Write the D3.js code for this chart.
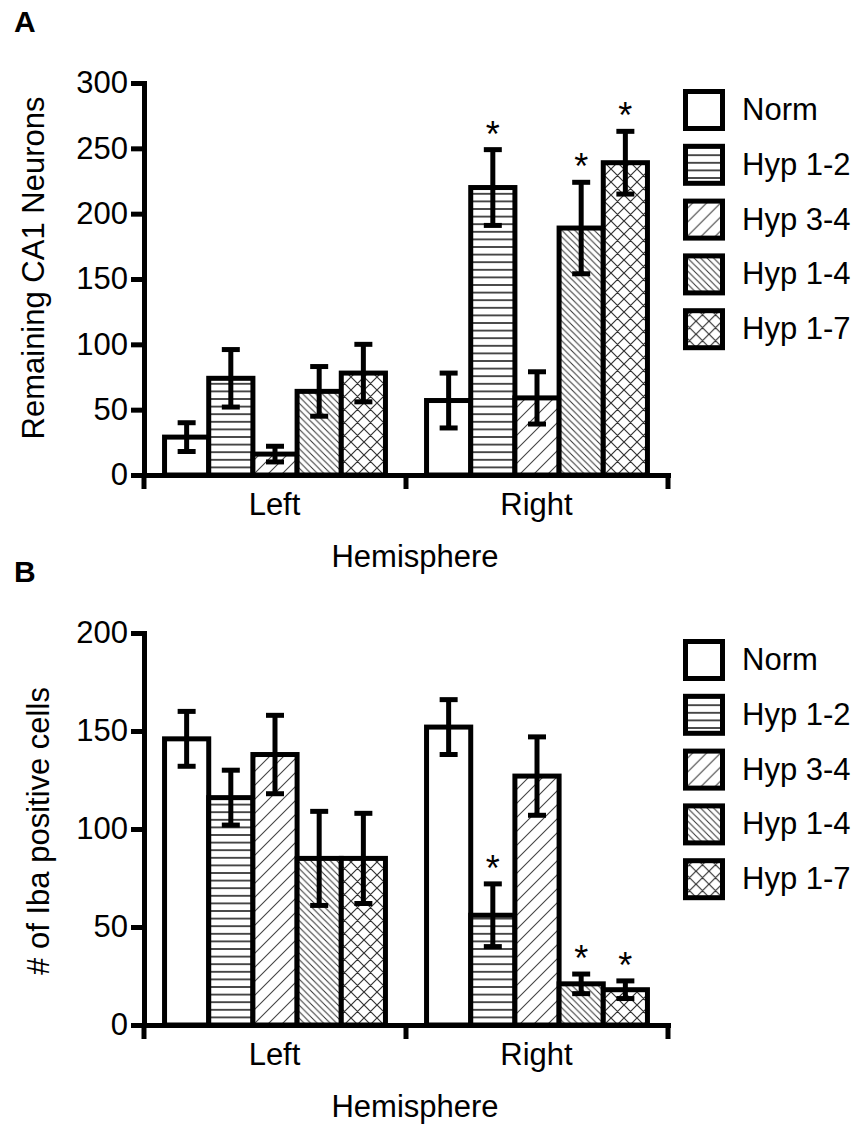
<!DOCTYPE html>
<html>
<head>
<meta charset="utf-8">
<script src="https://cdn.jsdelivr.net/npm/d3@7"></script>
<style>
  body { margin: 0; background: #fff; }
  text { font-family: "Liberation Sans", Arial, Helvetica, sans-serif; fill: #000; }
</style>
</head>
<body>
<svg id="chart" width="859" height="1124"></svg>
<script>
// ---- data ----
const hemispheres = ["Left", "Right"];
const treatments = ["Norm", "Hyp 1-2", "Hyp 3-4", "Hyp 1-4", "Hyp 1-7"];

// Panel A: remaining CA1 neurons (mean, SEM)
const neuronsLeft = [29, 74, 16, 64, 78];
const neuronsLeftErr = [11, 22, 6, 19, 22];
const neuronsRight = [57, 220, 59, 189, 239];
const neuronsRightErr = [21, 29, 20, 35, 24];
const neuronsLeftSig = [false, false, false, false, false];
const neuronsRightSig = [false, true, false, true, true];
const neuronsTicks = [0, 50, 100, 150, 200, 250, 300];

// Panel B: Iba-positive cells (mean, SEM)
const ibaLeft = [146, 116, 138, 85, 85];
const ibaLeftErr = [14, 14, 20, 24, 23];
const ibaRight = [152, 56, 127, 21, 18];
const ibaRightErr = [14, 16, 20, 5, 4.5];
const ibaLeftSig = [false, false, false, false, false];
const ibaRightSig = [false, true, false, true, true];
const ibaTicks = [0, 50, 100, 150, 200];

// ---- drawing ----
const svg = d3.select("#chart");
svg.append("rect").attr("width", 859).attr("height", 1124).attr("fill", "#fff");

// fill patterns, one per treatment
const defs = svg.append("defs");
function addPattern(id, w, h, d, color, width) {
  const p = defs.append("pattern")
    .attr("id", id)
    .attr("patternUnits", "userSpaceOnUse")
    .attr("width", w).attr("height", h);
  p.append("rect").attr("width", w).attr("height", h).attr("fill", "#fff");
  if (d) p.append("path").attr("d", d).attr("stroke", color)
    .attr("stroke-width", width).attr("fill", "none");
}
addPattern("pat-norm", 10, 10, null);
addPattern("pat-hlines", 10, 7.6, "M0,3.8 H10", "#222", 1.6);
addPattern("pat-fwd", 14, 14, "M0,14 L14,0 M-3.5,3.5 L3.5,-3.5 M10.5,17.5 L17.5,10.5", "#444", 1.1);
addPattern("pat-back", 6.5, 6.5, "M0,0 L6.5,6.5 M-1.625,4.875 L1.625,8.125 M4.875,-1.625 L8.125,1.625", "#333", 1);
addPattern("pat-cross", 13, 13, "M0,0 L13,13 M13,0 L0,13 M-3.25,9.75 L3.25,16.25 M9.75,-3.25 L16.25,3.25 M-3.25,3.25 L3.25,-3.25 M9.75,16.25 L16.25,9.75", "#333", 1.2);
const fillFor = d3.scaleOrdinal()
  .domain(treatments)
  .range(["url(#pat-norm)", "url(#pat-hlines)", "url(#pat-fwd)", "url(#pat-back)", "url(#pat-cross)"]);

function drawPanel(o) {
  const g = svg.append("g").attr("transform", `translate(0,${o.dy})`);
  const y = d3.scaleLinear().domain([0, o.max]).range([475, 83]);
  const x0 = d3.scaleBand().domain(hemispheres).range([144, 668]);
  const x1 = d3.scaleBand().domain(treatments).range([0, x0.bandwidth()])
    .paddingInner(0).paddingOuter(0.465);

  // panel letter
  g.append("text").attr("x", 14).attr("y", 32)
    .attr("font-size", 30).attr("font-weight", "bold").text(o.letter);

  const rows = [];
  hemispheres.forEach((h, hi) => {
    treatments.forEach((t, ti) => {
      rows.push({ h, t, v: o.means[hi][ti], e: o.errs[hi][ti], sig: o.sig[hi][ti] });
    });
  });
  const cx = d => x0(d.h) + x1(d.t) + x1.bandwidth() / 2;

  // bars
  g.append("g").selectAll("rect").data(rows).join("rect")
    .attr("x", d => x0(d.h) + x1(d.t))
    .attr("y", d => y(d.v))
    .attr("width", x1.bandwidth())
    .attr("height", d => y(0) - y(d.v))
    .attr("fill", d => fillFor(d.t))
    .attr("stroke", "#000")
    .attr("stroke-width", 5);

  // error bars
  const eb = g.append("g").attr("stroke", "#000").attr("stroke-width", 5);
  eb.selectAll("line.v").data(rows).join("line").attr("class", "v")
    .attr("x1", cx).attr("x2", cx)
    .attr("y1", d => y(d.v - d.e)).attr("y2", d => y(d.v + d.e));
  eb.selectAll("line.top").data(rows).join("line").attr("class", "top")
    .attr("x1", d => cx(d) - 9).attr("x2", d => cx(d) + 9)
    .attr("y1", d => y(d.v + d.e)).attr("y2", d => y(d.v + d.e));
  eb.selectAll("line.bot").data(rows).join("line").attr("class", "bot")
    .attr("x1", d => cx(d) - 9).attr("x2", d => cx(d) + 9)
    .attr("y1", d => y(d.v - d.e)).attr("y2", d => y(d.v - d.e));

  // significance marks
  g.append("g").selectAll("text").data(rows.filter(d => d.sig)).join("text")
    .attr("x", cx).attr("y", d => y(d.v + d.e) - 3)
    .attr("text-anchor", "middle").attr("font-size", 36).text("*");

  // y axis
  const ya = g.append("g").attr("transform", "translate(144,0)")
    .call(d3.axisLeft(y).tickValues(o.ticks).tickSize(13).tickSizeOuter(0).tickPadding(3));
  ya.attr("font-size", 31).attr("font-family", null);
  ya.select(".domain").attr("stroke-width", 5).attr("stroke-linecap", "square");
  ya.selectAll(".tick line").attr("stroke-width", 5);
  ya.selectAll(".tick text").attr("fill", "#000");

  // x axis
  const xa = g.append("g").attr("transform", "translate(0,475)")
    .call(d3.axisBottom(x0).tickSize(0).tickSizeOuter(0));
  xa.attr("font-size", 31).attr("font-family", null);
  xa.select(".domain").attr("stroke-width", 5).attr("stroke-linecap", "square");
  xa.selectAll(".tick text").attr("y", 40).attr("dy", null).attr("fill", "#000");
  xa.selectAll(".tick").attr("transform", d => `translate(${x0(d) + x0.bandwidth() / 2 - 0.5},0)`);
  const bounds = [x0.range()[0], x0("Right"), x0.range()[1]];
  xa.selectAll("line.sep").data(bounds).join("line").attr("class", "sep")
    .attr("x1", d => d).attr("x2", d => d).attr("y1", 0).attr("y2", 14)
    .attr("stroke", "#000").attr("stroke-width", 5);

  // axis titles
  g.append("text").attr("x", 415).attr("y", 567)
    .attr("text-anchor", "middle").attr("font-size", 31).text("Hemisphere");
  g.append("text")
    .attr("transform", `translate(${o.titleX},${o.titleY}) rotate(-90)`)
    .attr("text-anchor", "middle").attr("font-size", 31).text(o.yTitle);

  // legend
  const lg = g.append("g").attr("transform", "translate(683,89)");
  const item = lg.selectAll("g").data(treatments).join("g")
    .attr("transform", (d, i) => `translate(0,${i * 54.8})`);
  item.append("rect").attr("x", 2.5).attr("y", 2.5).attr("width", 37).attr("height", 37)
    .attr("fill", d => fillFor(d)).attr("stroke", "#000").attr("stroke-width", 5);
  item.append("text").attr("x", 59).attr("y", 31).attr("font-size", 31).text(d => d);
}

drawPanel({
  dy: 0, letter: "A", max: 300, ticks: neuronsTicks,
  means: [neuronsLeft, neuronsRight], errs: [neuronsLeftErr, neuronsRightErr],
  sig: [neuronsLeftSig, neuronsRightSig],
  yTitle: "Remaining CA1 Neurons", titleX: 44, titleY: 268
});
drawPanel({
  dy: 550, letter: "B", max: 200, ticks: ibaTicks,
  means: [ibaLeft, ibaRight], errs: [ibaLeftErr, ibaRightErr],
  sig: [ibaLeftSig, ibaRightSig],
  yTitle: "# of Iba positive cells", titleX: 49, titleY: 281
});
</script>
</body>
</html>
